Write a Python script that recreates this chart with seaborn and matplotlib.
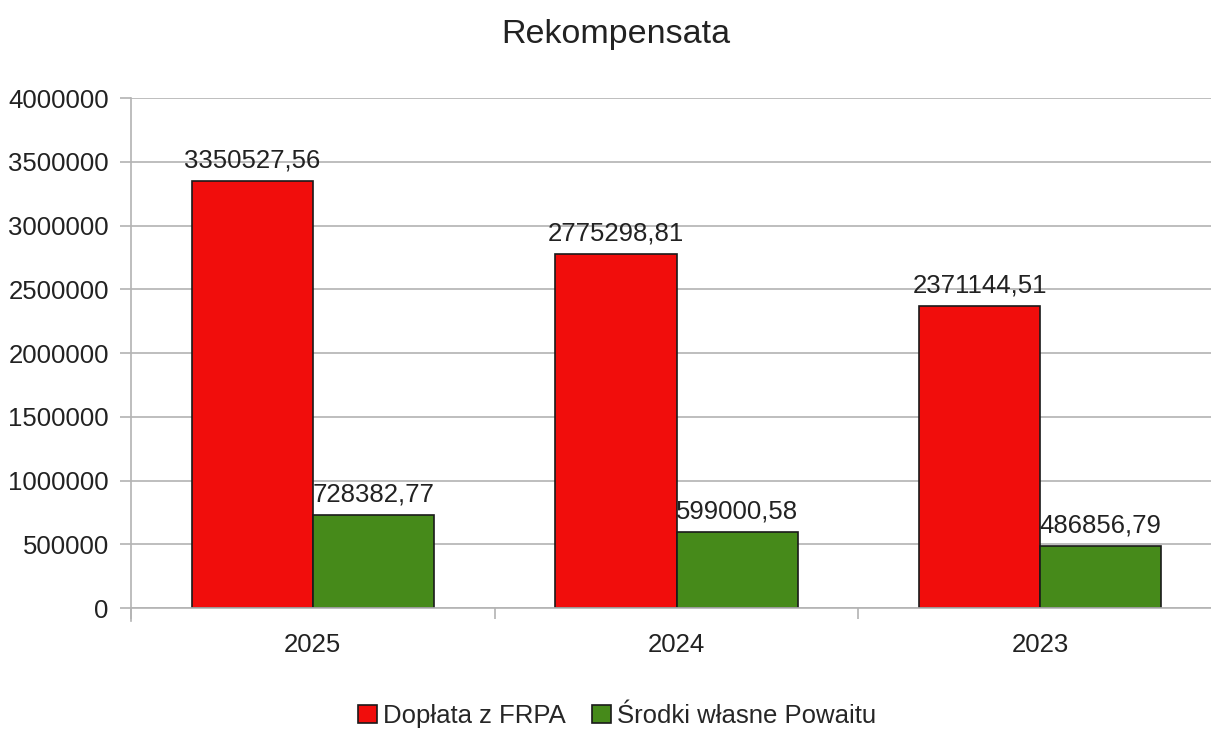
import pandas as pd
import numpy as np
import matplotlib.pyplot as plt
import seaborn as sns
from matplotlib.patches import Patch

sns.set_theme(style="white")
plt.rcParams["font.family"] = ["Liberation Sans", "DejaVu Sans"]

# ── Data ───────────────────────────────────────────────
years = ["2025", "2024", "2023"]
series = ["Dopłata z FRPA", "Środki własne Powaitu"]
frpa = [3350527.56, 2775298.81, 2371144.51]
wlasne = [728382.77, 599000.58, 486856.79]
colors = ["#F10D0C", "#468A1A"]

df = pd.DataFrame({
    "rok": years * 2,
    "seria": [series[0]] * 3 + [series[1]] * 3,
    "kwota": frpa + wlasne,
})

# ── Plot ───────────────────────────────────────────────
fig = plt.figure(figsize=(12.11, 7.29), dpi=100)
ax = fig.add_axes([131 / 1211, 1 - 608 / 729, (1222 - 131) / 1211, (608 - 98) / 729])

sns.barplot(data=df, x="rok", y="kwota", hue="seria", order=years,
            hue_order=series, palette=colors, width=0.667, ax=ax,
            edgecolor="#1a1a1a", linewidth=1.2, saturation=1, legend=False)

fs = 18.5
ax.set_ylim(0, 4000000)
ax.set_xlim(-0.5, 2.5)
ax.set_yticks(np.arange(0, 4000001, 500000))
ax.set_yticklabels([f"{int(v)}" for v in np.arange(0, 4000001, 500000)], fontsize=fs, color="#222222")
ax.yaxis.grid(True, color="#b3b3b3", linewidth=1.2)
ax.set_axisbelow(True)
ax.tick_params(axis="y", length=8, color="#b3b3b3", width=1.2, pad=8, left=True)

ax.set_xticks([0, 1, 2])
ax.set_xticklabels(years, fontsize=fs, color="#222222")
ax.set_xticks([-0.5, 0.5, 1.5], minor=True)
ax.tick_params(axis="x", which="major", length=0, pad=18)
ax.tick_params(axis="x", which="minor", length=8, color="#b3b3b3", width=1.2, bottom=True)

for s in ["top", "right"]:
    ax.spines[s].set_visible(False)
ax.spines["left"].set_color("#b3b3b3")
ax.spines["left"].set_linewidth(1.2)
ax.spines["left"].set_bounds(-100000, 4000000)
ax.spines["left"].set_clip_on(False)
ax.spines["bottom"].set_color("#b3b3b3")
ax.spines["bottom"].set_linewidth(1.2)
ax.set_xlabel("")
ax.set_ylabel("")

for cont in ax.containers:
    labels = [f"{v:.2f}".replace(".", ",") for v in cont.datavalues]
    ax.bar_label(cont, labels=labels, fontsize=fs, color="#222222", padding=6)

fig.suptitle("Rekompensata", fontsize=24.5, x=616 / 1211, y=1 - 35 / 729,
             va="center", color="#222222")

handles = [Patch(facecolor=c, edgecolor="#1a1a1a", linewidth=1.2) for c in colors]
fig.legend(handles, series, loc="center", bbox_to_anchor=(617 / 1211, 1 - 716 / 729),
           ncol=2, frameon=False, fontsize=fs, handlelength=0.75, handleheight=0.75,
           handletextpad=0.25, columnspacing=1.0)

plt.savefig("out.png", dpi=100)
